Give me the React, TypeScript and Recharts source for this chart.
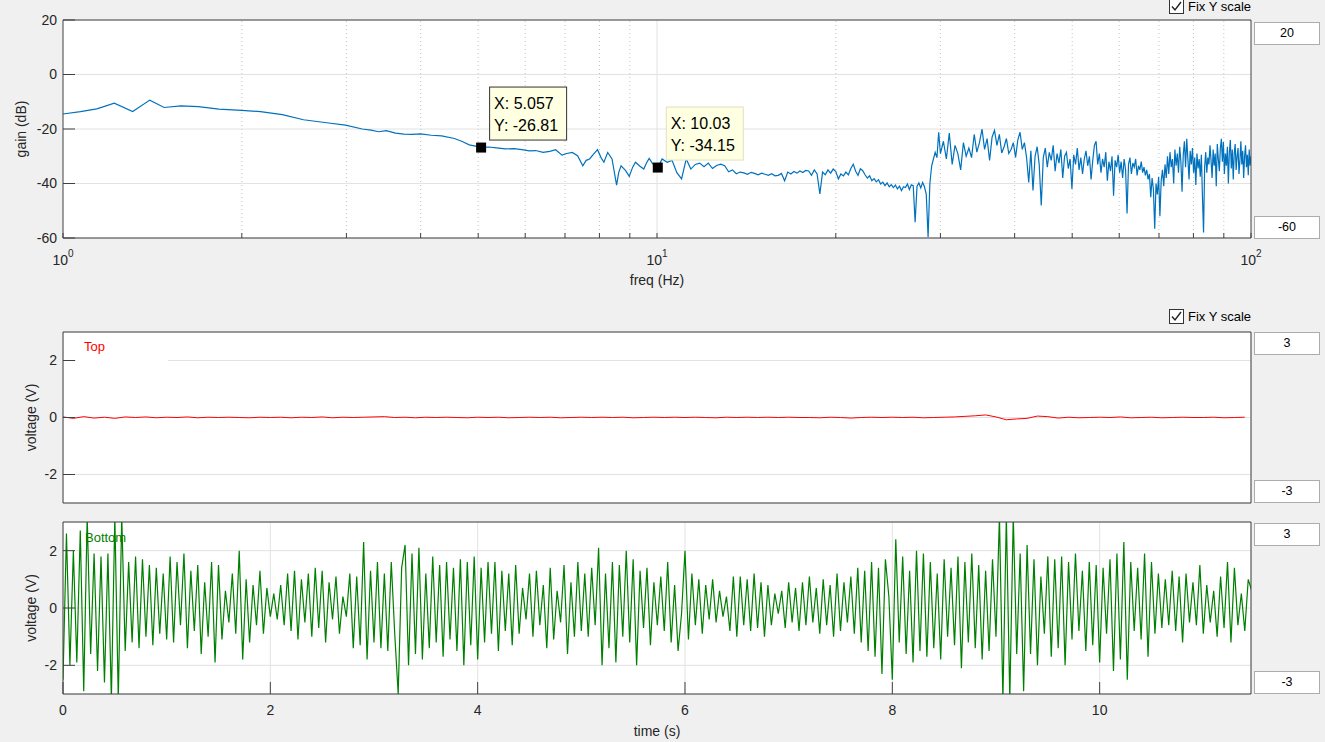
import React from 'react';
import {
  ComposedChart,
  LineChart,
  Line,
  XAxis,
  YAxis,
  CartesianGrid,
  ReferenceLine,
  ReferenceDot,
} from 'recharts';

// gain spectrum, 1-10 Hz read point by point [freq Hz, gain dB]
const lowBand: [number, number][] = [
  [1.0, -14.5], [1.07, -13.6], [1.14, -12.6], [1.22, -10.5], [1.31, -13.6],
  [1.4, -9.4], [1.48, -12.1], [1.58, -11.5], [1.69, -11.8], [1.83, -12.7],
  [2.0, -13.2], [2.15, -13.6], [2.34, -14.7], [2.54, -16.6], [2.8, -17.8],
  [2.99, -18.6], [3.19, -20.0], [3.3, -20.4], [3.4, -21.0], [3.5, -20.6],
  [3.63, -21.5], [3.75, -21.9], [3.87, -22.0], [4.0, -21.8], [4.17, -22.3],
  [4.34, -22.5], [4.56, -23.5], [4.7, -24.6], [4.83, -25.8], [4.95, -26.3],
  [5.057, -26.81], [5.2, -26.6], [5.37, -26.9], [5.55, -27.3], [5.75, -27.2],
  [5.92, -27.6], [6.1, -28.0], [6.25, -27.9], [6.43, -28.6], [6.6, -28.2],
  [6.75, -27.6], [6.92, -29.6], [7.05, -29.0], [7.2, -28.6], [7.35, -29.8],
  [7.5, -33.5], [7.6, -31.5], [7.7, -31.0], [7.82, -29.2], [7.94, -27.6],
  [8.05, -30.5], [8.14, -32.2], [8.26, -28.6], [8.4, -31.0], [8.55, -40.6],
  [8.62, -36.0], [8.7, -33.5], [8.85, -35.2], [8.98, -37.4], [9.1, -34.0],
  [9.2, -32.2], [9.35, -33.6], [9.5, -34.7], [9.6, -32.5], [9.7, -30.8],
  [9.85, -33.0], [10.03, -34.15],
];

// 10.2 - 29.8 Hz, one value every 0.2 Hz
const midStartHz = 10.2;
const midStepHz = 0.2;
const midGainDb = [
  -31.0, -32.2, -31.5, -36.0, -38.3, -31.0, -34.7, -33.0, -32.5, -33.8,
  -32.5, -34.5, -33.4, -32.9, -33.5, -35.7, -35.0, -36.4, -35.8, -36.1,
  -36.6, -35.9, -36.3, -36.8, -36.2, -36.6, -37.0, -36.4, -37.2, -37.0,
  -36.3, -39.0, -35.8, -36.5, -35.6, -36.2, -35.4, -36.0, -35.2, -35.4,
  -37.0, -35.0, -36.5, -43.8, -35.8, -36.8, -35.0, -36.2, -34.7, -35.6,
  -38.3, -36.5, -37.2, -35.8, -36.8, -34.5, -32.9, -35.5, -37.0, -34.6,
  -35.3, -36.8, -38.0, -37.2, -39.0, -38.2, -39.4, -38.6, -40.2, -39.5,
  -40.8, -39.8, -41.2, -40.4, -41.5, -40.6, -42.0, -41.0, -42.6, -41.2,
  -41.5, -40.2, -42.2, -40.5, -40.8, -54.2, -41.0, -39.8, -41.6, -39.6,
  -41.2, -44.0, -59.6, -40.0, -33.5, -31.0, -28.6, -30.5, -21.2,
];

// 30 - 100 Hz, one value every 0.35 Hz
const highStartHz = 30;
const highStepHz = 0.35;
const highGainDb = [
  -29.0, -24.5, -31.0, -21.5, -33.0, -26.0, -29.0, -35.0, -25.0, -30.0,
  -27.0, -30.5, -22.0, -28.5, -25.0, -20.0, -27.5, -23.5, -31.5, -23.0,
  -20.5, -26.0, -22.0, -28.8, -26.5, -23.5, -29.0, -27.5, -25.0, -30.4,
  -24.0, -21.2, -27.5, -25.0, -30.5, -39.6, -28.0, -42.6, -30.0, -26.5,
  -33.0, -48.1, -30.5, -27.0, -34.0, -28.6, -31.5, -26.0, -35.5, -29.0,
  -32.5, -27.5, -38.0, -30.0, -28.6, -34.5, -31.0, -42.0, -29.5, -33.0,
  -27.0, -35.0, -30.5, -36.5, -31.0, -28.0, -33.5, -30.0, -38.5, -31.5,
  -26.0, -24.5, -33.0, -29.0, -36.0, -31.0, -34.0, -28.5, -39.0, -32.0,
  -35.5, -30.0, -44.5, -31.5, -34.0, -29.5, -36.0, -32.0, -38.0, -31.0,
  -35.0, -51.0, -33.0, -30.5, -36.5, -32.5, -34.0, -31.0, -37.0, -33.5,
  -35.0, -32.0, -36.0, -34.0, -37.0, -35.0, -38.5, -36.5, -45.0, -38.0,
  -42.0, -56.6, -40.0, -44.0, -37.5, -52.0, -39.0, -35.0, -41.0, -33.0,
  -38.0, -30.0, -36.5, -28.5, -34.0, -31.0, -40.0, -27.5, -33.5, -29.0,
  -36.0, -26.5, -32.0, -43.0, -29.5, -24.5, -34.0, -23.6, -31.0, -38.5,
  -28.0, -33.0, -27.0, -36.0, -30.5, -40.5, -29.0, -34.5, -31.0, -37.5,
  -29.5, -45.0, -58.0, -34.0, -28.5, -36.0, -30.5, -33.0, -26.0, -31.5,
  -38.0, -27.5, -33.5, -29.0, -41.0, -25.5, -31.0, -35.5, -27.0, -23.6,
  -32.0, -24.8, -36.5, -29.0, -33.5, -26.5, -40.0, -28.5, -24.0, -34.5,
  -27.5, -38.5, -29.0, -25.5, -35.0, -30.0, -27.0, -36.5, -31.5, -24.5,
  -33.0, -28.0, -38.0, -30.0, -26.0, -34.0, -29.5, -37.0, -27.5, -33.5,
  -30.0,
];

const freqTicks = [1, 2, 3, 4, 5, 6, 7, 8, 9, 10, 20, 30, 40, 50, 60, 70, 80, 90, 100];
const freqMajor = [1, 10, 100];
const gainTicks = [-60, -40, -20, 0, 20];
const dataTips = [
  { f: 5.057, g: -26.81, active: true },
  { f: 10.03, g: -34.15, active: false },
];

// "Top" channel, 10 samples per second
const topRate = 10;
const topVolts = [
  0.02, -0.03, 0.03, -0.02, 0.01, -0.03, 0.02, 0.0, 0.02, -0.01,
  0.01, 0.0, 0.02, -0.01, 0.01, 0.0, 0.01, 0.0, -0.01, 0.01,
  0.0, 0.01, -0.01, 0.01, 0.0, 0.02, -0.01, 0.01, 0.0, 0.01,
  0.02, 0.03, 0.0, 0.01, -0.01, 0.01, 0.0, 0.01, 0.0, -0.01,
  0.01, 0.0, 0.01, -0.01, 0.0, 0.01, 0.0, 0.01, -0.01, 0.0,
  0.01, 0.0, 0.01, 0.0, 0.01, -0.01, 0.0, 0.01, 0.0, 0.01,
  0.0, 0.01, 0.0, -0.01, 0.01, 0.0, 0.01, 0.0, 0.01, 0.0,
  0.01, 0.0, 0.0, -0.01, 0.01, 0.0, -0.02, 0.0, 0.01, 0.0,
  0.01, 0.0, 0.01, -0.01, 0.0, 0.01, 0.02, 0.04, 0.06, 0.09,
  0.02, -0.08, -0.05, -0.03, 0.05, 0.03, -0.02, 0.01, -0.01, 0.0,
  0.01, 0.0, 0.02, -0.01, 0.0, 0.01, -0.01, 0.0, 0.01, 0.0,
  0.0, 0.01, -0.01, 0.0, 0.01,
];

// "Bottom" channel, 30 samples per second, split in 2 s pieces
const bottomRate = 30;
const bottom0to2 = [
  -2.5, 2.6, -2.0, 2.0, -1.9, 2.7, -2.9, 3.2, -1.6, 1.9,
  -2.2, 1.8, -2.6, 1.9, -3.2, 3.2, -3.2, 3.2, -1.5, 1.6,
  -1.2, 1.8, -1.4, 1.7, -1.0, 1.5, -1.3, 1.4, -0.9, 1.2,
  -1.1, 1.8, -1.2, 1.6, -0.6, 1.9, -1.4, 1.3, -0.8, 1.5,
  -1.6, 0.9, -1.0, 1.6, -1.9, 1.5, -1.1, 0.6, -0.5, 1.2,
  -0.9, 2.0, -1.8, 1.0, -1.2, 0.8, -0.6, 1.3, -0.9, 0.7,
];
const bottom2to4 = [
  -0.3, 0.5, -0.4, 0.8, -0.6, 1.2, -0.8, 1.3, -1.1, 1.0,
  -0.5, 1.2, -1.0, 1.4, -0.7, 1.3, -1.2, 0.9, -0.4, 1.1,
  -0.9, 0.4, -0.3, 1.2, -1.4, 1.1, -1.3, 2.3, -1.8, 1.3,
  -1.2, 1.6, -1.4, 1.2, -1.5, 1.6, -0.9, -3.0, 1.4, 2.2,
  -2.0, 1.9, -1.6, 2.1, -1.8, 1.2, -1.4, 1.8, -1.2, 1.5,
  -1.7, 1.6, -1.1, 1.4, -1.5, 1.7, -2.0, 1.6, -1.3, 1.8,
];
const bottom4to6 = [
  -1.8, 1.4, -1.2, 1.6, -0.9, 1.6, -1.5, 1.3, -0.8, 1.2,
  -1.3, 1.5, -0.9, 0.7, -0.4, 1.2, -1.0, 1.3, -0.6, 0.8,
  -1.4, 1.4, -1.1, 0.6, -0.5, 1.5, -1.6, 0.9, -1.0, 1.6,
  -0.8, 1.2, -1.0, 1.4, -0.6, 2.1, -2.0, 1.2, -1.4, 1.6,
  -1.9, 1.5, -1.0, 2.0, -1.2, 1.7, -2.0, 1.3, -0.7, 1.4,
  -1.3, 0.9, -0.6, 1.1, -0.8, 1.6, -1.2, 0.8, -1.5, -0.2,
];
const bottom6to8 = [
  2.0, -1.1, 1.2, -0.6, 1.0, -0.9, 0.8, -0.4, 1.0, -0.5,
  0.6, -0.3, 0.4, -0.8, 1.1, -1.0, 1.1, -0.6, 1.0, -0.8,
  1.2, -0.7, 0.9, -1.0, 0.8, -0.6, 0.5, -0.2, 0.6, -0.7,
  0.9, -0.5, 0.7, -0.8, 0.9, -0.6, 1.1, -0.5, 0.7, -0.9,
  1.0, -0.6, 0.8, -1.0, 1.2, -0.8, 0.9, -0.5, 1.1, -0.9,
  1.4, -1.2, 1.3, -1.5, 1.6, -1.7, 1.4, -2.3, 1.7, 0.4,
];
const bottom8to10 = [
  -2.5, 2.4, -1.2, 1.8, -1.6, 1.3, -1.9, 2.0, -1.5, 1.9,
  -1.7, 1.6, -1.4, 1.2, -1.8, 1.7, -1.0, 1.4, -1.3, 1.8,
  -2.1, 1.6, -1.2, 1.9, -1.4, 1.5, -1.8, 1.3, -1.5, 1.7,
  -1.0, 3.2, -3.2, 3.2, -3.2, 3.2, -1.6, 1.9, -2.9, 2.2,
  -1.6, 1.7, -2.0, 1.1, -0.9, 1.8, -1.7, 1.7, -1.4, 1.8,
  -2.0, 1.6, -1.1, 1.9, -0.8, 1.3, -1.5, 1.6, -1.3, 1.5,
];
const bottom10toEnd = [
  -1.9, 1.4, -0.9, 1.7, -2.2, 1.9, -1.8, 2.3, -2.5, 1.6,
  -0.8, 1.4, -1.1, 1.9, -1.7, 1.6, -0.9, 1.2, -0.7, 1.0,
  -0.6, 1.3, -0.8, 1.1, -1.2, 1.2, -0.5, 0.9, -0.6, 1.5,
  -0.9, 0.8, -0.5, 0.6, -1.0, 1.1, -0.7, 1.6, -1.2, 1.4,
  -0.6, 0.5, -0.8, 1.0, 0.6,
];

const timeTicks = [0, 2, 4, 6, 8, 10];
const voltTicks = [-2, 0, 2];
const timeMax = 11.46;

const spectrumData = [
  ...lowBand.map(([f, g]) => ({ f, g })),
  ...midGainDb.map((g, i) => ({ f: midStartHz + i * midStepHz, g })),
  ...highGainDb.map((g, i) => ({ f: highStartHz + i * highStepHz, g })),
];
const topData = topVolts.map((v, i) => ({ t: i / topRate, v }));
const bottomData = [
  ...bottom0to2,
  ...bottom2to4,
  ...bottom4to6,
  ...bottom6to8,
  ...bottom8to10,
  ...bottom10toEnd,
].map((v, i) => ({ t: i / bottomRate, v }));

const FONT = "'Liberation Sans', Arial, sans-serif";
const AXIS = '#404040';
const TEXT = '#262626';
const GRID = '#e2e2e2';
const MINOR_GRID = '#c4c4c4';
const tickStyle = { fontSize: 14, fill: TEXT, fontFamily: FONT };

const FreqTick = (props: any) => {
  const { x, y, payload } = props;
  if (!freqMajor.includes(payload.value)) return <g />;
  const exp = Math.round(Math.log10(payload.value));
  return (
    <text x={x} y={y} dy={12} textAnchor="middle" fontSize={14} fill={TEXT} fontFamily={FONT}>
      10
      <tspan dy={-8} fontSize={10}>
        {exp}
      </tspan>
    </text>
  );
};

// axis titles: the label gets the axis box as viewBox
const XTitle = (props: any) => {
  const { viewBox, title, baseline } = props;
  return (
    <text
      x={viewBox.x + viewBox.width / 2}
      y={baseline}
      textAnchor="middle"
      fontSize={14}
      fill={TEXT}
      fontFamily={FONT}
    >
      {title}
    </text>
  );
};

const YTitle = (props: any) => {
  const { viewBox, title, baseline } = props;
  const cy = viewBox.y + viewBox.height / 2;
  return (
    <text
      x={baseline}
      y={cy}
      transform={`rotate(-90 ${baseline} ${cy})`}
      textAnchor="middle"
      fontSize={14}
      fill={TEXT}
      fontFamily={FONT}
    >
      {title}
    </text>
  );
};

const DataTip = ({ cx, cy, f, g, active }: any) => (
  <g>
    <rect x={cx - 5} y={cy - 5} width={10} height={10} fill="#000" />
    <rect
      x={cx + 8.5}
      y={cy - 60.5}
      width={77}
      height={53}
      fill="#ffffe1"
      stroke={active ? '#333' : '#e2e0bc'}
    />
    <text x={cx + 13} y={cy - 39} fontSize={16} fill="#000" fontFamily={FONT}>
      {`X: ${f}`}
    </text>
    <text x={cx + 13} y={cy - 16.5} fontSize={16} fill="#000" fontFamily={FONT}>
      {`Y: ${g}`}
    </text>
  </g>
);

const FixY = ({ top }: { top: number }) => (
  <div style={{ position: 'absolute', left: 1169, top, height: 15, display: 'flex' }}>
    <svg width={15} height={15}>
      <rect x={0.5} y={0.5} width={14} height={14} fill="#fff" stroke="#333" />
      <polyline points="3,7.5 6,11 12,3" fill="none" stroke="#222" strokeWidth={1.4} />
    </svg>
    <span style={{ marginLeft: 4, fontSize: 13, lineHeight: '15px', color: '#000' }}>Fix Y scale</span>
  </div>
);

const LimitBox = ({ top, value }: { top: number; value: string }) => (
  <div
    style={{
      position: 'absolute',
      left: 1254,
      top,
      width: 64,
      height: 21,
      background: '#fff',
      border: '1px solid #acacac',
      fontSize: 12.5,
      lineHeight: '21px',
      textAlign: 'center',
      color: '#000',
    }}
  >
    {value}
  </div>
);

export default function App() {
  return (
    <div
      style={{
        position: 'absolute',
        left: 0,
        top: 0,
        width: 1325,
        height: 742,
        background: '#f0f0f0',
        overflow: 'hidden',
        fontFamily: FONT,
      }}
    >
      {/* gain spectrum */}
      <div style={{ position: 'absolute', left: 0, top: 0 }}>
        <ComposedChart width={1325} height={300} data={spectrumData} margin={{ top: 19, right: 73, bottom: 0, left: 0 }}>
          <CartesianGrid vertical={false} stroke={GRID} fill="#fff" />
          {freqTicks
            .filter((f) => !freqMajor.includes(f))
            .map((f) => (
              <ReferenceLine key={f} x={f} stroke={MINOR_GRID} strokeDasharray="1 3" />
            ))}
          <ReferenceLine x={10} stroke={GRID} />
          <XAxis
            dataKey="f"
            type="number"
            scale="log"
            domain={[1, 100]}
            allowDataOverflow
            ticks={freqTicks}
            interval={0}
            height={62}
            stroke={AXIS}
            tickSize={-5}
            tickMargin={20}
            tick={(p: any) => <FreqTick {...p} />}
            label={<XTitle title="freq (Hz)" baseline={285} />}
          />
          <XAxis
            xAxisId="top"
            orientation="top"
            type="number"
            scale="log"
            domain={[1, 100]}
            allowDataOverflow
            ticks={freqTicks}
            interval={0}
            height={1}
            stroke={AXIS}
            tickSize={-5}
            tick={false}
          />
          <YAxis
            domain={[-60, 20]}
            allowDataOverflow
            ticks={gainTicks}
            interval={0}
            width={63}
            stroke={AXIS}
            tickSize={-12}
            tickMargin={18}
            tick={tickStyle}
            label={<YTitle title="gain (dB)" baseline={26} />}
          />
          <YAxis
            yAxisId="r"
            orientation="right"
            domain={[-60, 20]}
            allowDataOverflow
            ticks={gainTicks}
            interval={0}
            width={1}
            stroke={AXIS}
            tickSize={-12}
            tick={false}
          />
          <Line
            dataKey="g"
            type="linear"
            stroke="#0072bd"
            strokeWidth={1.2}
            dot={false}
            isAnimationActive={false}
          />
          {dataTips.map((tip) => (
            <ReferenceDot
              key={tip.f}
              x={tip.f}
              y={tip.g}
              r={5}
              ifOverflow="visible"
              shape={(p: any) => <DataTip cx={p.cx} cy={p.cy} {...tip} />}
            />
          ))}
        </ComposedChart>
      </div>

      {/* Top channel */}
      <div style={{ position: 'absolute', left: 0, top: 300 }}>
        <LineChart width={1325} height={220} data={topData} margin={{ top: 31, right: 73, bottom: 0, left: 0 }}>
          <CartesianGrid stroke={GRID} fill="#fff" />
          <XAxis
            dataKey="t"
            type="number"
            domain={[0, timeMax]}
            allowDataOverflow
            ticks={timeTicks}
            interval={0}
            height={17}
            stroke={AXIS}
            tickSize={-12}
            tick={false}
          />
          <XAxis
            xAxisId="top"
            orientation="top"
            type="number"
            domain={[0, timeMax]}
            allowDataOverflow
            ticks={timeTicks}
            interval={0}
            height={1}
            stroke={AXIS}
            tickSize={-12}
            tick={false}
          />
          <YAxis
            domain={[-3, 3]}
            allowDataOverflow
            ticks={voltTicks}
            interval={0}
            width={63}
            stroke={AXIS}
            tickSize={-12}
            tickMargin={18}
            tick={tickStyle}
            label={<YTitle title="voltage (V)" baseline={36} />}
          />
          <YAxis
            yAxisId="r"
            orientation="right"
            domain={[-3, 3]}
            allowDataOverflow
            ticks={voltTicks}
            interval={0}
            width={1}
            stroke={AXIS}
            tickSize={-12}
            tick={false}
          />
          <Line
            dataKey="v"
            type="linear"
            stroke="#ff0000"
            strokeWidth={1}
            dot={false}
            isAnimationActive={false}
          />
        </LineChart>
      </div>

      {/* Bottom channel */}
      <div style={{ position: 'absolute', left: 0, top: 500 }}>
        <LineChart width={1325} height={242} data={bottomData} margin={{ top: 21, right: 73, bottom: 0, left: 0 }}>
          <CartesianGrid stroke={GRID} fill="#fff" />
          <XAxis
            dataKey="t"
            type="number"
            domain={[0, timeMax]}
            allowDataOverflow
            ticks={timeTicks}
            interval={0}
            height={48}
            stroke={AXIS}
            tickSize={-12}
            tickMargin={23}
            tick={tickStyle}
            label={<XTitle title="time (s)" baseline={236} />}
          />
          <XAxis
            xAxisId="top"
            orientation="top"
            type="number"
            domain={[0, timeMax]}
            allowDataOverflow
            ticks={timeTicks}
            interval={0}
            height={1}
            stroke={AXIS}
            tickSize={-12}
            tick={false}
          />
          <YAxis
            domain={[-3, 3]}
            allowDataOverflow
            ticks={voltTicks}
            interval={0}
            width={63}
            stroke={AXIS}
            tickSize={-12}
            tickMargin={18}
            tick={tickStyle}
            label={<YTitle title="voltage (V)" baseline={36} />}
          />
          <YAxis
            yAxisId="r"
            orientation="right"
            domain={[-3, 3]}
            allowDataOverflow
            ticks={voltTicks}
            interval={0}
            width={1}
            stroke={AXIS}
            tickSize={-12}
            tick={false}
          />
          <Line
            dataKey="v"
            type="linear"
            stroke="#008000"
            strokeWidth={1.2}
            dot={false}
            isAnimationActive={false}
          />
        </LineChart>
      </div>

      {/* legends */}
      <div style={{ position: 'absolute', left: 76, top: 333, width: 92, height: 30, background: '#fff' }} />
      <div style={{ position: 'absolute', left: 84, top: 338.5, fontSize: 13, lineHeight: '16px', color: '#ff0000' }}>
        Top
      </div>
      <div style={{ position: 'absolute', left: 85, top: 530, fontSize: 13, lineHeight: '16px', color: '#008000' }}>
        Bottom
      </div>

      {/* figure controls */}
      <FixY top={-1} />
      <FixY top={309} />
      <LimitBox top={22} value="20" />
      <LimitBox top={216} value="-60" />
      <LimitBox top={332} value="3" />
      <LimitBox top={480} value="-3" />
      <LimitBox top={523} value="3" />
      <LimitBox top={671} value="-3" />
    </div>
  );
}
